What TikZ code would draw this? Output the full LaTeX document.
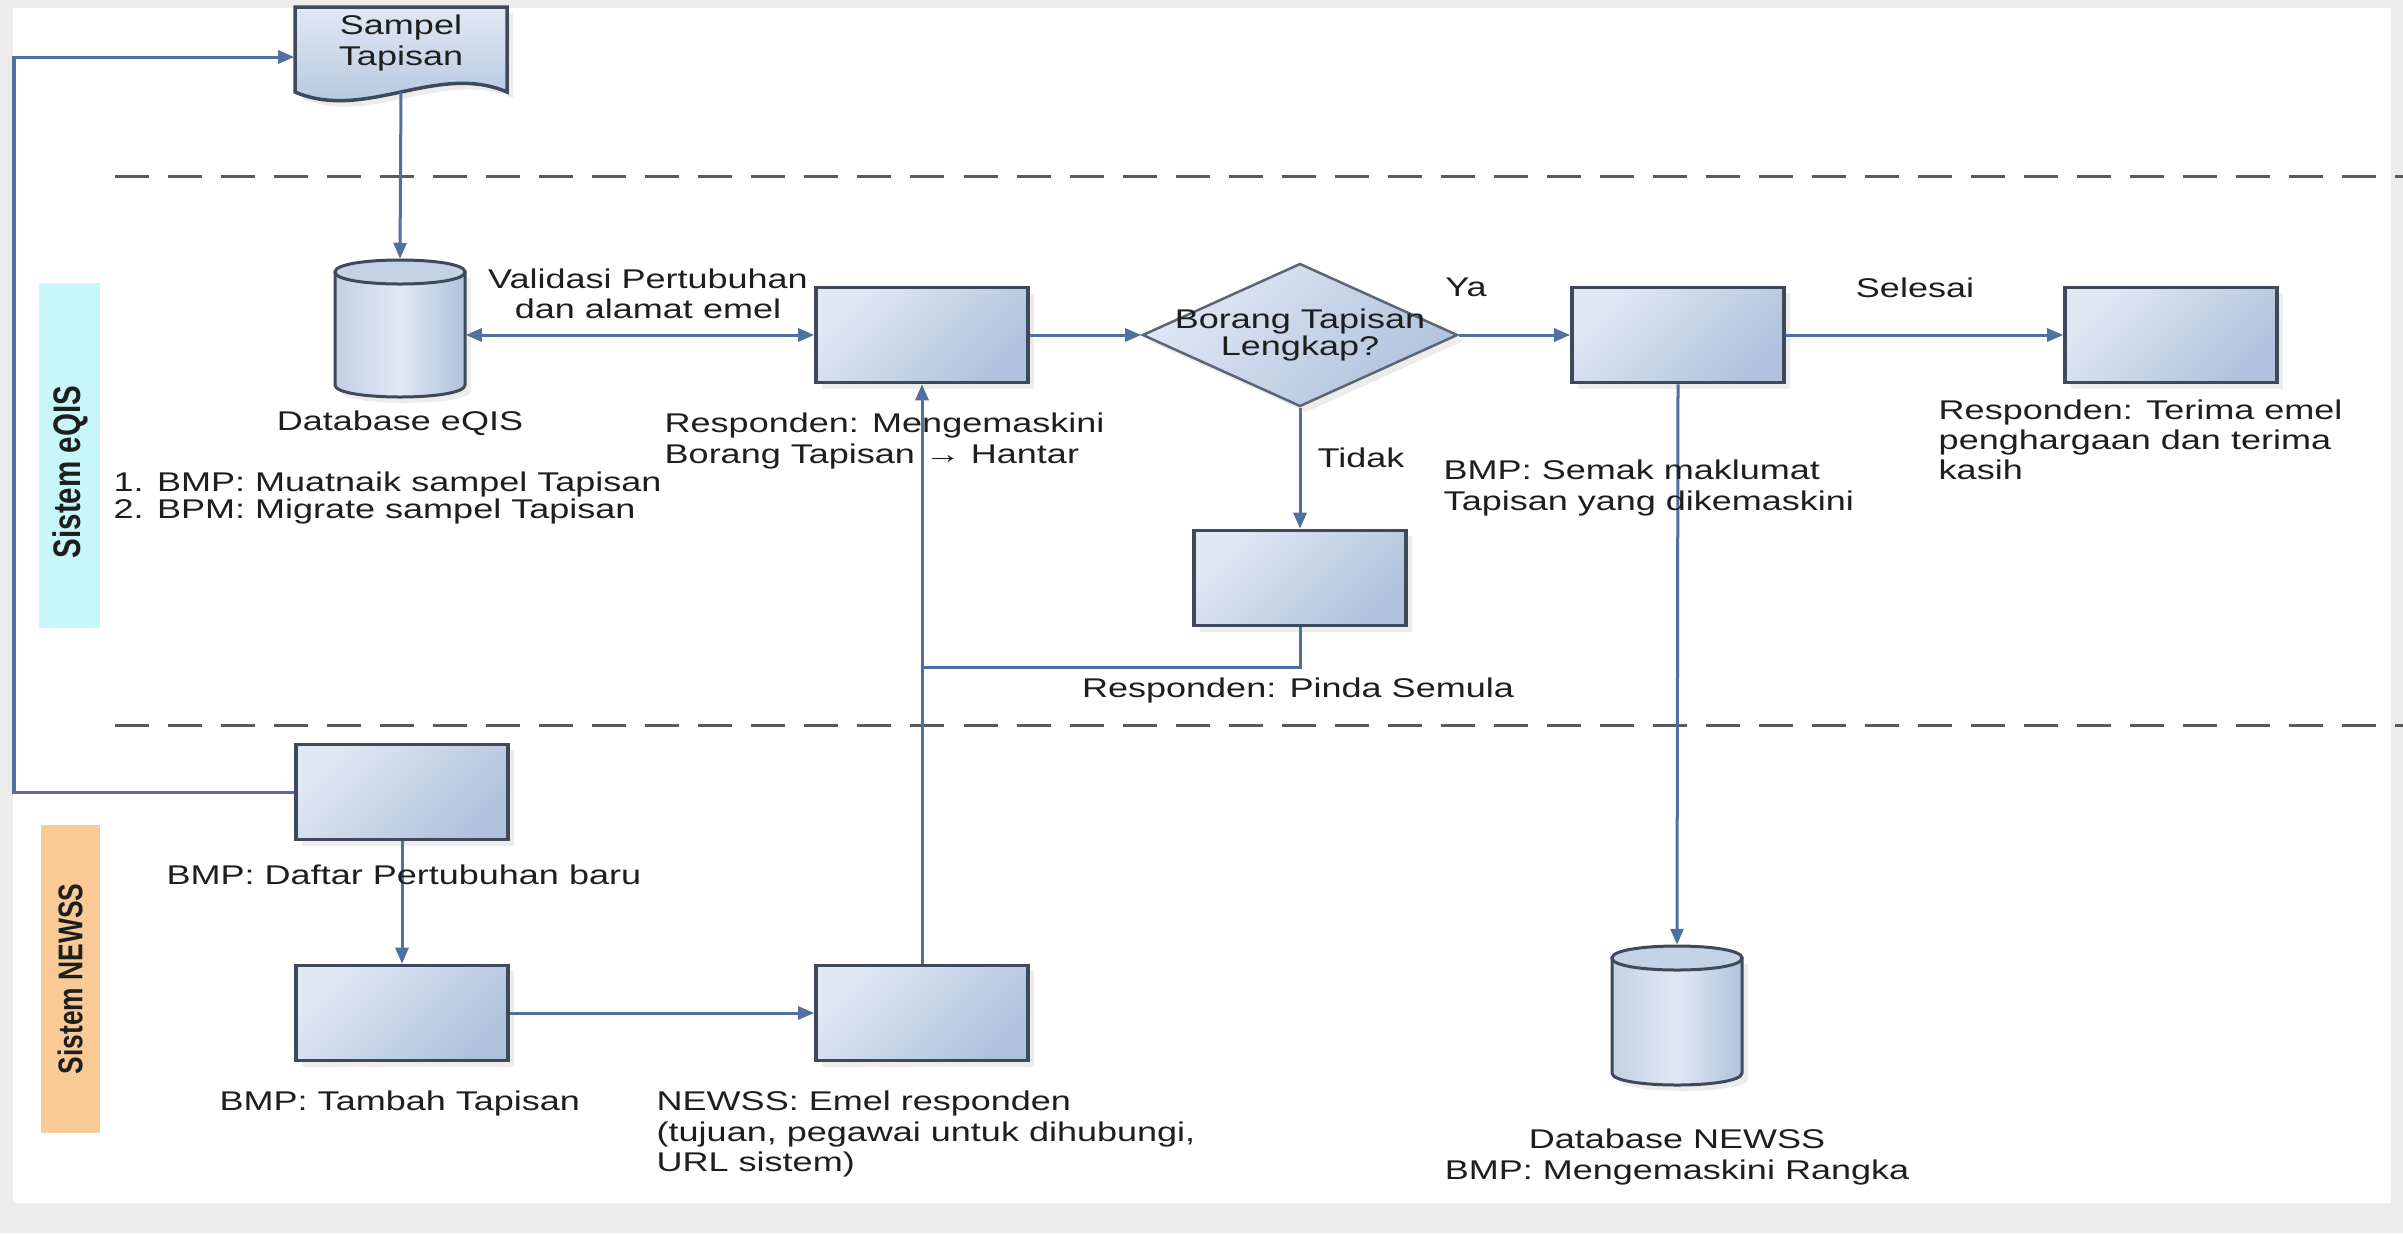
\documentclass[tikz,border=0pt]{standalone}
\usepackage{fontspec}
\setmainfont{Liberation Sans}[FakeStretch=1.33]
\newfontfamily\lanefont{Liberation Sans}
\usetikzlibrary{arrows.meta,shapes.geometric,shadows,calc}
\definecolor{boxlt}{RGB}{224,232,244}
\definecolor{boxdk}{RGB}{176,194,221}
\definecolor{boxln}{RGB}{62,74,92}
\definecolor{conncol}{RGB}{80,112,160}
\definecolor{txtc}{RGB}{30,30,30}
\definecolor{dashc}{RGB}{90,90,90}
\definecolor{lanecyan}{RGB}{200,247,250}
\definecolor{laneorange}{RGB}{249,201,150}
\definecolor{cyltop}{RGB}{196,210,230}
\definecolor{edgegray}{RGB}{236,236,236}
\newcommand\dbcyl[3]{%
  \path[draw=boxln, line width=0.03cm, left color=boxdk!60!boxlt, right color=boxdk, middle color=boxlt,
        drop shadow={shadow xshift=0.06cm, shadow yshift=-0.06cm, opacity=0.15}]
    ({#1-65},#2) -- ({#1-65},#3) .. controls ({#1-65},{#3+16}) and ({#1+65},{#3+16}) .. ({#1+65},#3)
    -- ({#1+65},#2) -- cycle;
  \path[draw=boxln, line width=0.03cm, fill=cyltop]
    ({#1-65},#2) .. controls ({#1-65},{#2-16}) and ({#1+65},{#2-16}) .. ({#1+65},#2)
    .. controls ({#1+65},{#2+16}) and ({#1-65},{#2+16}) .. ({#1-65},#2) -- cycle;
}
\begin{document}
\begin{tikzpicture}[x=0.01cm,y=-0.01cm,
  procbox/.style={rectangle, draw=boxln, line width=0.035cm, top color=boxlt, bottom color=boxdk,
    shading angle=45, minimum width=2.12cm, minimum height=0.95cm, inner sep=0pt,
    drop shadow={shadow xshift=0.06cm, shadow yshift=-0.06cm, opacity=0.15}},
  decbox/.style={diamond, draw=boxln!85, line width=0.025cm, top color=boxlt, bottom color=boxdk,
    shading angle=45, minimum width=3.15cm, minimum height=1.43cm, inner sep=0pt,
    drop shadow={shadow xshift=0.06cm, shadow yshift=-0.06cm, opacity=0.15}},
  anchorbox/.style={rectangle, inner sep=0pt},
  conn/.style={draw=conncol, line width=0.03cm, -{Triangle[length=0.16cm,width=0.13cm]}},
  dconn/.style={draw=conncol, line width=0.03cm, {Triangle[length=0.16cm,width=0.13cm]}-{Triangle[length=0.16cm,width=0.13cm]}},
  cline/.style={draw=conncol, line width=0.03cm},
  txt/.style={inner sep=0pt, text=txtc, font=\fontsize{7.7pt}{8.6pt}\selectfont},
  lanetxt/.style={inner sep=0pt, text=txtc, rotate=90},
  sep/.style={draw=dashc, line width=0.03cm, dash pattern=on 0.34cm off 0.19cm}
]
\fill[edgegray] (0,0) rectangle (2403,1233);
\fill[white] (13,8) rectangle (2391,1203);
\useasboundingbox (0,0) rectangle (2403,1233);

% lanes
\fill[lanecyan] (39,283) rectangle (100,628);
\fill[laneorange] (41,825) rectangle (100,1133);
\node[lanetxt] (laneA) at (70,472) {\scalebox{1}[1.3]{\lanefont\bfseries\fontsize{8.4pt}{9pt}\selectfont Sistem eQIS}};
\node[lanetxt] (laneB) at (70,979) {\scalebox{1}[1.3]{\lanefont\bfseries\fontsize{7.5pt}{9pt}\selectfont Sistem NEWSS}};

% separators
\draw[sep] (115,176) -- (2403,176);
\draw[sep] (115,725) -- (2403,725);

% document
\path[draw=boxln, line width=0.035cm, top color=boxlt, bottom color=boxdk,
      drop shadow={shadow xshift=0.06cm, shadow yshift=-0.06cm, opacity=0.15}]
  (295,7) -- (295,92) .. controls (365,122) and (437,62) .. (507,92) -- (507,7) -- cycle;
\node[anchorbox, minimum width=2.12cm, minimum height=1cm] (doc) at (401,57) {};
\node[txt, align=center] (tDoc) at (401,43) {Sampel\\Tapisan};
\coordinate (docbot) at (401,92);

% databases
\dbcyl{400}{272}{385}
\node[anchorbox, minimum width=1.3cm, minimum height=1.39cm] (db1) at (400,329) {};
\dbcyl{1677}{958}{1073}
\node[anchorbox, minimum width=1.3cm, minimum height=1.39cm] (db2) at (1677,1015) {};

% process boxes
\node[procbox] (box1) at (922,335) {};
\node[decbox] (dia) at (1300,335) {};
\node[procbox] (box2) at (1300,578) {};
\node[procbox] (box3) at (1678,335) {};
\node[procbox] (box4) at (2171,335) {};
\node[procbox] (box5) at (402,792) {};
\node[procbox] (box6) at (402,1013) {};
\node[procbox] (box7) at (922,1013) {};

% connectors
\coordinate (lp) at (14,400);
\coordinate (j) at (922,667);
\draw[conn] (box5.west) -| (lp) |- (doc.west);
\draw[conn] (docbot) -- (db1.north);
\draw[dconn] (box1.west -| db1.east) -- (box1.west);
\draw[conn] (box1.east) -- (dia.west);
\draw[conn] (dia.east) -- (box3.west);
\draw[conn] (dia.south) -- (box2.north);
\draw[cline] (box2.south) |- (j);
\draw[conn] (box7.north) -- (box1.south);
\draw[conn] (box3.east) -- (box4.west);
\draw[conn] (box3.south) -- (db2.north);
\draw[conn] (box5.south) -- (box6.north);
\draw[conn] (box6.east) -- (box7.west);

% texts
\node[txt, align=center] (tValid) at (648,294) {Validasi Pertubuhan\\dan alamat emel};
\node[txt] (tDbA) at (400,423) {Database eQIS};
\node[txt, align=left, anchor=west, font=\fontsize{7.7pt}{7.9pt}\selectfont] (tList) at (113,498) {1. BMP: Muatnaik sampel Tapisan\\2. BPM: Migrate sampel Tapisan};
\node[txt, align=left, anchor=west] (tResp) at (664,441) {Responden: Mengemaskini\\Borang Tapisan → Hantar};
\node[txt, align=center, font=\fontsize{7.7pt}{7.6pt}\selectfont] (tDia) at (dia.center) {Borang Tapisan\\Lengkap?};
\node[txt] (tYa) at (1466,287) {Ya};
\node[txt, anchor=west] (tTidak) at (1317,458) {Tidak};
\node[txt] (tPinda) at (1298,690) {Responden: Pinda Semula};
\node[txt, align=left, anchor=west] (tSemak) at (1443,488) {BMP: Semak maklumat\\Tapisan yang dikemaskini};
\node[txt] (tSelesai) at (1915,288) {Selesai};
\node[txt, align=left, anchor=west] (tTerima) at (1938,440) {Responden: Terima emel\\penghargaan dan terima\\kasih};
\node[txt, anchor=west] (tDaftar) at (166,875) {BMP: Daftar Pertubuhan baru};
\node[txt, anchor=west] (tTambah) at (219,1103) {BMP: Tambah Tapisan};
\node[txt, align=left, anchor=west] (tEmel) at (656,1134) {NEWSS: Emel responden\\(tujuan, pegawai untuk dihubungi,\\URL sistem)};
\node[txt, align=center] (tDbB) at (1677,1157) {Database NEWSS\\BMP: Mengemaskini Rangka};
\end{tikzpicture}
\end{document}
